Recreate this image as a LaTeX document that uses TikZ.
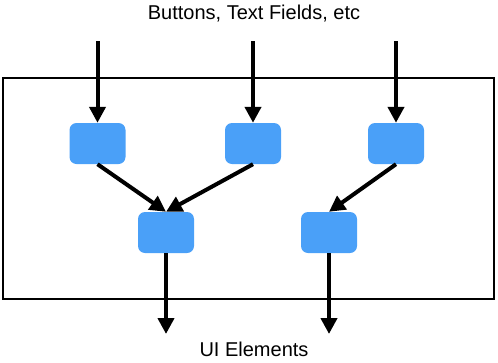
\documentclass[tikz,border=0pt]{standalone}
\usepackage{fontspec}
\setmainfont{Liberation Sans}
\usetikzlibrary{arrows.meta}
\definecolor{boxblue}{HTML}{4AA0F8}
\begin{document}
\begin{tikzpicture}[x=1pt,y=-1pt,
  blk/.style={fill=boxblue,draw=none,rounded corners=7pt,minimum width=56pt,minimum height=41pt,inner sep=0pt},
  flow/.style={line width=4pt,-{Triangle[length=16pt,width=16pt]}},
  lbl/.style={font=\fontsize{20}{22}\selectfont,inner sep=0pt}]
\useasboundingbox (0,0) rectangle (498,362);
% frame
\draw[line width=2pt] (3,78) rectangle (494,299);
% blocks
\node[blk] (a) at (97.5,143.5) {};
\node[blk] (b) at (253,143.5) {};
\node[blk] (c) at (396,143.5) {};
\node[blk] (d) at (166,232.5) {};
\node[blk] (e) at (329,232.5) {};
% labels
\node[lbl] (top) at (254,14) {Buttons, Text Fields, etc};
\node[lbl] (bot) at (254,349) {UI Elements};
% inputs
\coordinate (ia) at (97.5,41);
\coordinate (ib) at (253,41);
\coordinate (ic) at (396,41);
\coordinate (od) at (166,334);
\coordinate (oe) at (329,334);
\draw[flow] (ia) -- (a.north);
\draw[flow] (ib) -- (b.north);
\draw[flow] (ic) -- (c.north);
% merges
\draw[flow] (a.south) -- (d.north);
\draw[flow] (b.south) -- (d.north);
\draw[flow] (c.south) -- (e.north);
% outputs
\draw[flow] (d.south) -- (od);
\draw[flow] (e.south) -- (oe);
\end{tikzpicture}
\end{document}
